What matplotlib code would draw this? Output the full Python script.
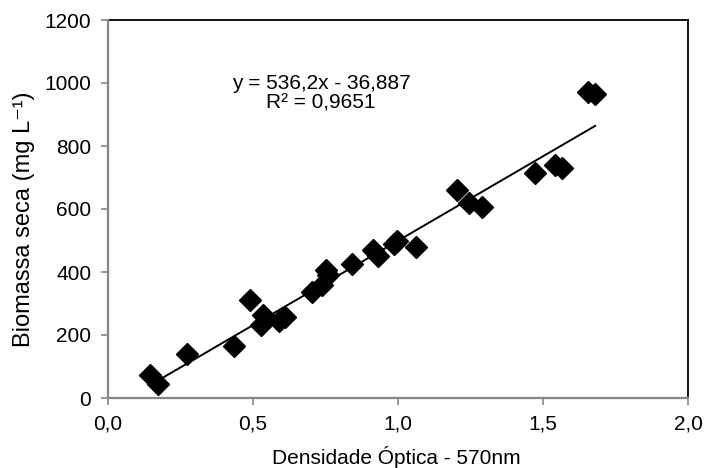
import numpy as np
import matplotlib.pyplot as plt
from matplotlib.ticker import FuncFormatter

plt.rcParams['font.family'] = ['Liberation Sans', 'DejaVu Sans']

# -----------------------------
# Data
# -----------------------------
od = [0.144, 0.172, 0.271, 0.433, 0.491, 0.529, 0.536, 0.59, 0.61,
      0.704, 0.739, 0.753, 0.76, 0.842, 0.915, 0.93, 0.985, 0.998, 1.062,
      1.203, 1.244, 1.289, 1.474, 1.540, 1.564, 1.656, 1.680]
biomass = [73, 45, 140, 165, 311, 232, 263, 243, 256,
           337, 359, 406, 390, 425, 470, 452, 488, 500, 479,
           660, 619, 606, 714, 740, 730, 971, 965]

slope = 536.2
intercept = -36.887
eq_text = "y = 536,2x - 36,887\nR² = 0,9651"

xticks = [0.0, 0.5, 1.0, 1.5, 2.0]
yticks = [0, 200, 400, 600, 800, 1000, 1200]

FS = 15

fig = plt.figure(figsize=(7.05, 4.68), dpi=100)
ax = fig.add_axes([108 / 705, 70 / 468, 580 / 705, 378 / 468])

ax.plot(od, biomass, linestyle='none', marker='D', markersize=11.5,
        color='black', zorder=3)

# linear trendline over the data range
xs = np.array([min(od), max(od)])
ax.plot(xs, slope * xs + intercept, color='black', linewidth=1.4, zorder=2)

ax.text(0.735, 968, eq_text, ha='center', va='center', fontsize=FS,
        linespacing=1.0)

ax.set_xlim(0, 2.0)
ax.set_ylim(0, 1200)
ax.set_xticks(xticks)
ax.set_yticks(yticks)
ax.xaxis.set_major_formatter(FuncFormatter(lambda v, p: f"{v:.1f}".replace('.', ',')))

for side in ['top', 'right']:
    ax.spines[side].set_color('black')
    ax.spines[side].set_linewidth(1.3)
for side in ['left', 'bottom']:
    ax.spines[side].set_color('#868686')
    ax.spines[side].set_linewidth(1.6)
    ax.spines[side].set_zorder(4)

ax.tick_params(direction='out', length=5, width=1.2, color='#868686',
               labelsize=FS, pad=7)

ax.set_xlabel("Densidade Óptica - 570nm", fontsize=FS)
ax.set_ylabel("Biomassa seca (mg L⁻¹)", fontsize=17)
ax.xaxis.set_label_coords(0.497, -0.127)
ax.yaxis.set_label_coords(-0.126, 0.474)

fig.savefig("out.png", dpi=100)
